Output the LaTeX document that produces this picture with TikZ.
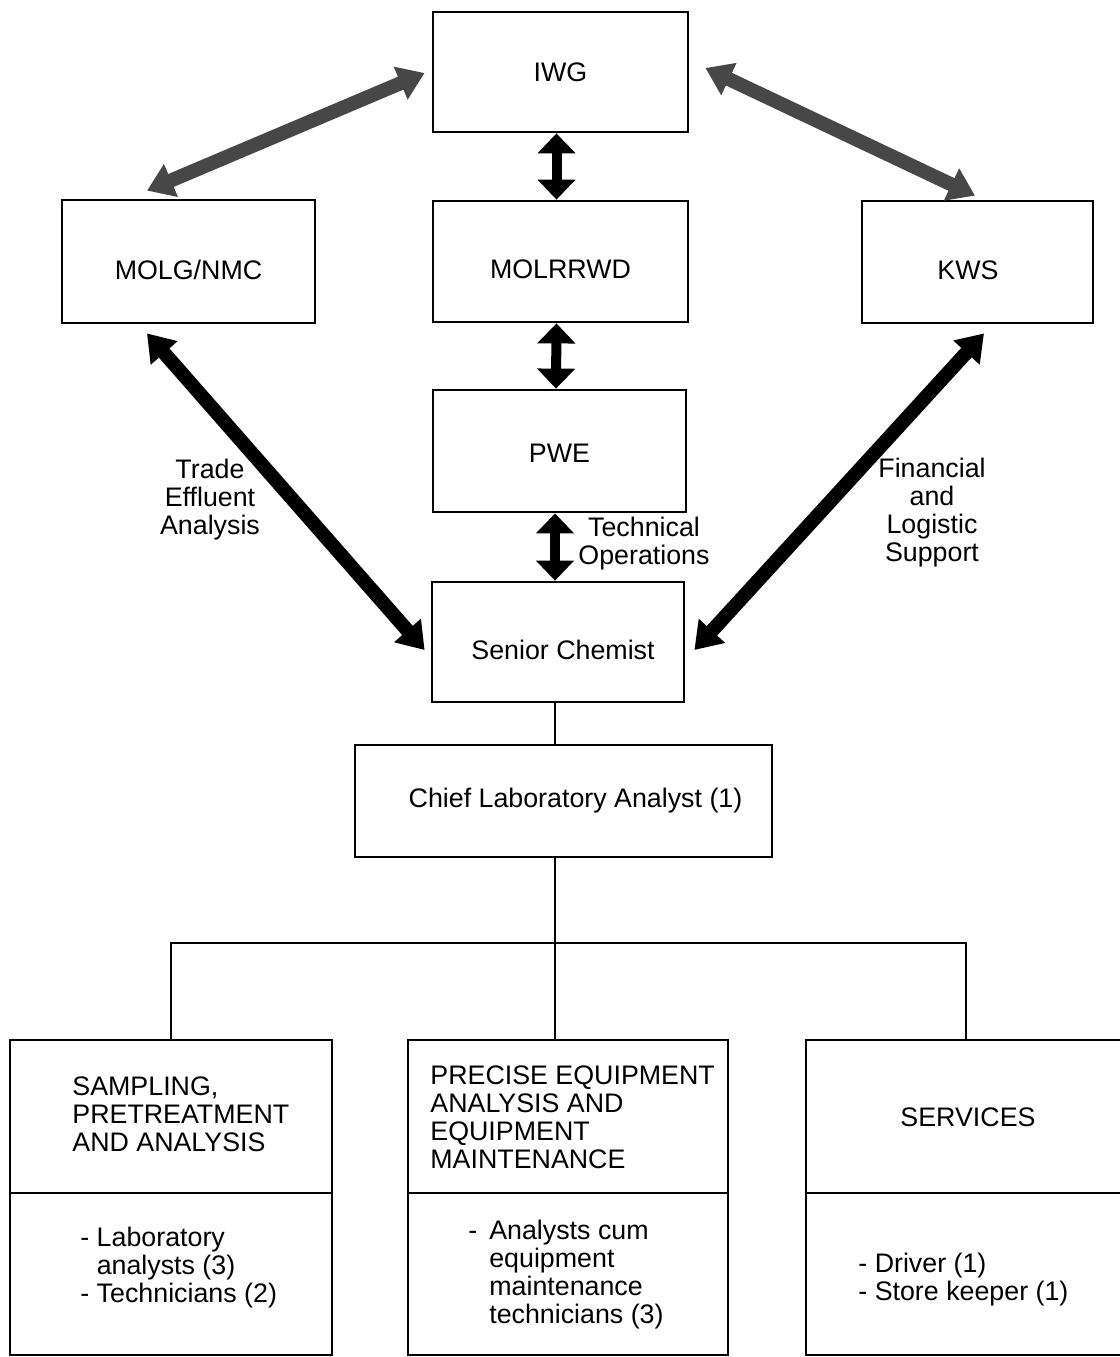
\documentclass[tikz,border=0pt]{standalone}
\usepackage{fontspec}
\setmainfont{Liberation Sans}
\usetikzlibrary{arrows.meta,calc}
\begin{document}
\begin{tikzpicture}[x=0.5pt,y=-0.5pt,
  txt/.style={font=\fontsize{13.4pt}{14pt}\selectfont, inner sep=0pt, align=center},
  txtl/.style={txt, align=left},
  box/.style 2 args={draw, line width=1.4pt, minimum width=#1*0.5pt, minimum height=#2*0.5pt, inner sep=0pt, txt},
  vlink/.style={line width=5pt, >={Triangle[width=18.5pt,length=10pt]}, <->},
  dlink/.style={line width=7pt, >={Triangle[width=17pt,length=13pt]}, <->},
  upper/.style={color=black!72},
  tree/.style={line width=1pt}]

% page area
\fill[white] (0,0) rectangle (1120,1357);
\useasboundingbox (0,0) rectangle (1120,1357);

% top organisations
\node[box={255}{120}] (iwg) at (560.5,72) {IWG};
\node[box={253}{123}, label={[txt, yshift=-4pt]center:MOLG/NMC}] (molg) at (188.5,261.5) {};
\node[box={255}{121}, label={[txt, yshift=-4pt]center:MOLRRWD}] (molr) at (560.5,261.5) {};
\node[box={231}{122}, label={[txt, xshift=-4.75pt, yshift=-4pt]center:KWS}] (kws) at (977.5,262) {};
\node[box={253}{122}, label={[txt, yshift=-1pt]center:PWE}] (pwe) at (559.5,451) {};
\node[box={252}{120}, label={[txt, xshift=2.5pt, yshift=-4pt]center:Senior Chemist}] (senior) at (558,642) {};
\node[box={417}{112}, label={[txt, xshift=6pt]center:Chief Laboratory Analyst (1)}] (chief) at (563.5,801) {};

% sections (heading part and staff part)
\node[box={322}{153}] (sampT) at (171,1116.5) {};
\node[box={322}{162}] (sampB) at (171,1274) {};
\node[box={320}{153}] (equipT) at (568,1116.5) {};
\node[box={320}{162}] (equipB) at (568,1274) {};
\node[box={320}{153}] (servT) at (966,1116.5) {};
\node[box={320}{162}] (servB) at (966,1274) {};

% section texts
\node[txtl, anchor=west] (sampH) at (72,1114) {SAMPLING,\\PRETREATMENT\\AND ANALYSIS};
\node[txtl, anchor=west] (sampS) at (80,1268) {- Laboratory\\\phantom{- }analysts (3)\\- Technicians (2)};
\node[txtl, anchor=west] (equipH) at (430,1117) {PRECISE EQUIPMENT\\ANALYSIS AND\\EQUIPMENT\\MAINTENANCE};
\node[txtl, anchor=west] (equipS) at (468,1275) {-\hspace{6pt}Analysts cum\\\phantom{-}\hspace{6pt}equipment\\\phantom{-}\hspace{6pt}maintenance\\\phantom{-}\hspace{6pt}technicians (3)};
\node[txt] (servH) at (968,1117) {SERVICES};
\node[txtl, anchor=west] (servS) at (858,1280) {- Driver (1)\\- Store keeper (1)};

% link labels
\node[txt] (lblTE) at (210,500) {Trade\\Effluent\\Analysis};
\node[txt] (lblTO) at (644,544) {Technical\\Operations};
\node[txt] (lblFL) at (932,513) {Financial\\and\\Logistic\\Support};

% vertical two-way links
\draw[vlink] ([xshift=-2pt]iwg.south) -- ([xshift=-2pt]molr.north);
\draw[vlink] ([xshift=-2pt]molr.south) -- ([xshift=-1.75pt]pwe.north);
\draw[vlink] ([xshift=-2.25pt]pwe.south) -- ([xshift=-1.5pt]senior.north);

% diagonal two-way links
\draw[dlink, upper] ([xshift=-3.5pt,yshift=-0.5pt]iwg.west) -- ([xshift=-20.75pt,yshift=4pt]molg.north);
\draw[dlink, upper] ([xshift=8pt,yshift=2pt]iwg.east) -- ([xshift=-1.25pt,yshift=2pt]kws.north);
\draw[dlink] ([xshift=-20.75pt,yshift=-4.5pt]molg.south) -- ([xshift=-3pt,yshift=-4pt]senior.west);
\draw[dlink] ([xshift=3.25pt,yshift=-4.5pt]kws.south) -- ([xshift=4.5pt,yshift=-4pt]senior.east);

% line organisation below the senior chemist
\coordinate (j) at (555,943);
\draw[tree] (senior.south -| j) -- (chief.north -| j);
\draw[tree] (chief.south -| j) -- (j);
\draw[tree] (sampT.north) -- (sampT.north |- j) -- (servT.north |- j) -- (servT.north);
\draw[tree] (j) -- (j |- equipT.north);
\end{tikzpicture}
\end{document}
